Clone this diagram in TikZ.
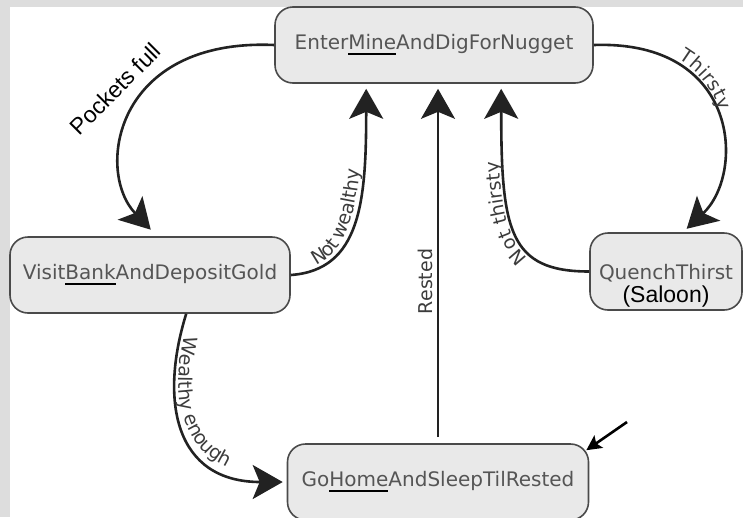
\documentclass[tikz,border=0pt]{standalone}
\usepackage{fontspec}
\usetikzlibrary{arrows.meta,calc,decorations.text}
\newfontfamily\statefont{DejaVu Sans}
\newfontfamily\notefont{Liberation Sans}
\definecolor{stfill}{HTML}{E9E9E9}
\definecolor{stline}{HTML}{4A4A4A}
\definecolor{sttext}{HTML}{555555}
\definecolor{edgecol}{HTML}{222222}
\definecolor{lbltext}{HTML}{3C3C3C}
\definecolor{framegray}{HTML}{DDDDDD}
\newcommand{\ulword}[1]{\setbox0=\hbox{#1}\rlap{\color{black}\rule[-5.5pt]{\wd0}{2.2pt}}\box0}
\newcommand{\lblfont}{\statefont\fontsize{19}{19}\selectfont\color{lbltext}}
\tikzset{
  state/.style={rectangle, rounded corners=18pt, draw=stline, line width=1.6pt, fill=stfill,
    text=sttext, font=\statefont\fontsize{20}{22}\selectfont, inner sep=0pt, minimum height=76pt},
  trans/.style={draw=edgecol, line width=2.6pt, -{Stealth[length=30pt,width=34pt,inset=7pt]}},
  curvelbl/.style args={#1 at #2}{postaction={decorate, decoration={text along path,
    text={|\lblfont|#1}, raise=4pt, text align={left indent=#2}}}},
}
\begin{document}
\begin{tikzpicture}[x=1pt,y=-1pt]
  \useasboundingbox (0,0) rectangle (743,517);
  \clip (0,0) rectangle (743,517);
  \fill[framegray] (0,0) rectangle (743,6.5);
  \fill[framegray] (0,0) rectangle (9.5,517);
  % states
  \node[state, minimum width=318pt] (mine) at (434,45) {Enter\ulword{Mine}AndDigForNugget};
  \node[state, minimum width=280pt] (bank) at (150,275) {Visit\ulword{Bank}AndDepositGold};
  \node[state, minimum width=152pt, minimum height=77pt, align=center, text height=67pt] (quench) at (666,271.5)
    {QuenchThirst\\[1pt]{\notefont\color{black}\fontsize{23}{23}\selectfont (Saloon)}};
  \node[state, minimum width=301pt] (home) at (438,482) {Go\ulword{Home}AndSleepTilRested};
  % transitions
  \draw[trans, shorten >=9pt] (mine.west) .. controls +(-160,-7) and +(-62,-65) .. ($(bank.north)+(7,0)$);
  \node[font=\notefont\fontsize{23}{23}\selectfont, rotate=45] (pockets) at (115,89) {Pockets full};
  \draw[trans, curvelbl={Thirsty at 85pt}, shorten >=5pt] (mine.east) .. controls +(147,-5) and +(62,-58) .. ($(quench.north)+(17,0)$);
  \draw[trans, curvelbl={Not wealthy at 28pt}, shorten >=5pt] (bank.east) .. controls +(70,-5) and +(0,117) .. ($(mine.south west)+(92,0)$);
  \draw[trans, curvelbl={Not thirsty at 62pt}, shorten >=5pt] (quench.west) .. controls +(-80,0) and +(0,147) .. ($(mine.south west)+(227,0)$);
  \draw[trans, curvelbl={Wealthy enough at 22pt}, shorten >=4pt] ($(bank.south west)+(177,0)$) .. controls +(-27,87) and +(-112,0) .. (home.west);
  \draw[trans, line width=2.2pt, shorten <=6pt, shorten >=5pt] (home.north) -- node[pos=0.45, rotate=90, anchor=south, font=\lblfont, inner sep=4pt] (restlbl) {Rested} (home.north |- mine.south);
  % initial state
  \coordinate (initpt) at (627,422);
  \draw[line width=2.6pt, -{Stealth[length=15pt,width=15pt,inset=3pt]}] (initpt) -- ($(home.north east)+(-3,7)$);
\end{tikzpicture}
\end{document}
